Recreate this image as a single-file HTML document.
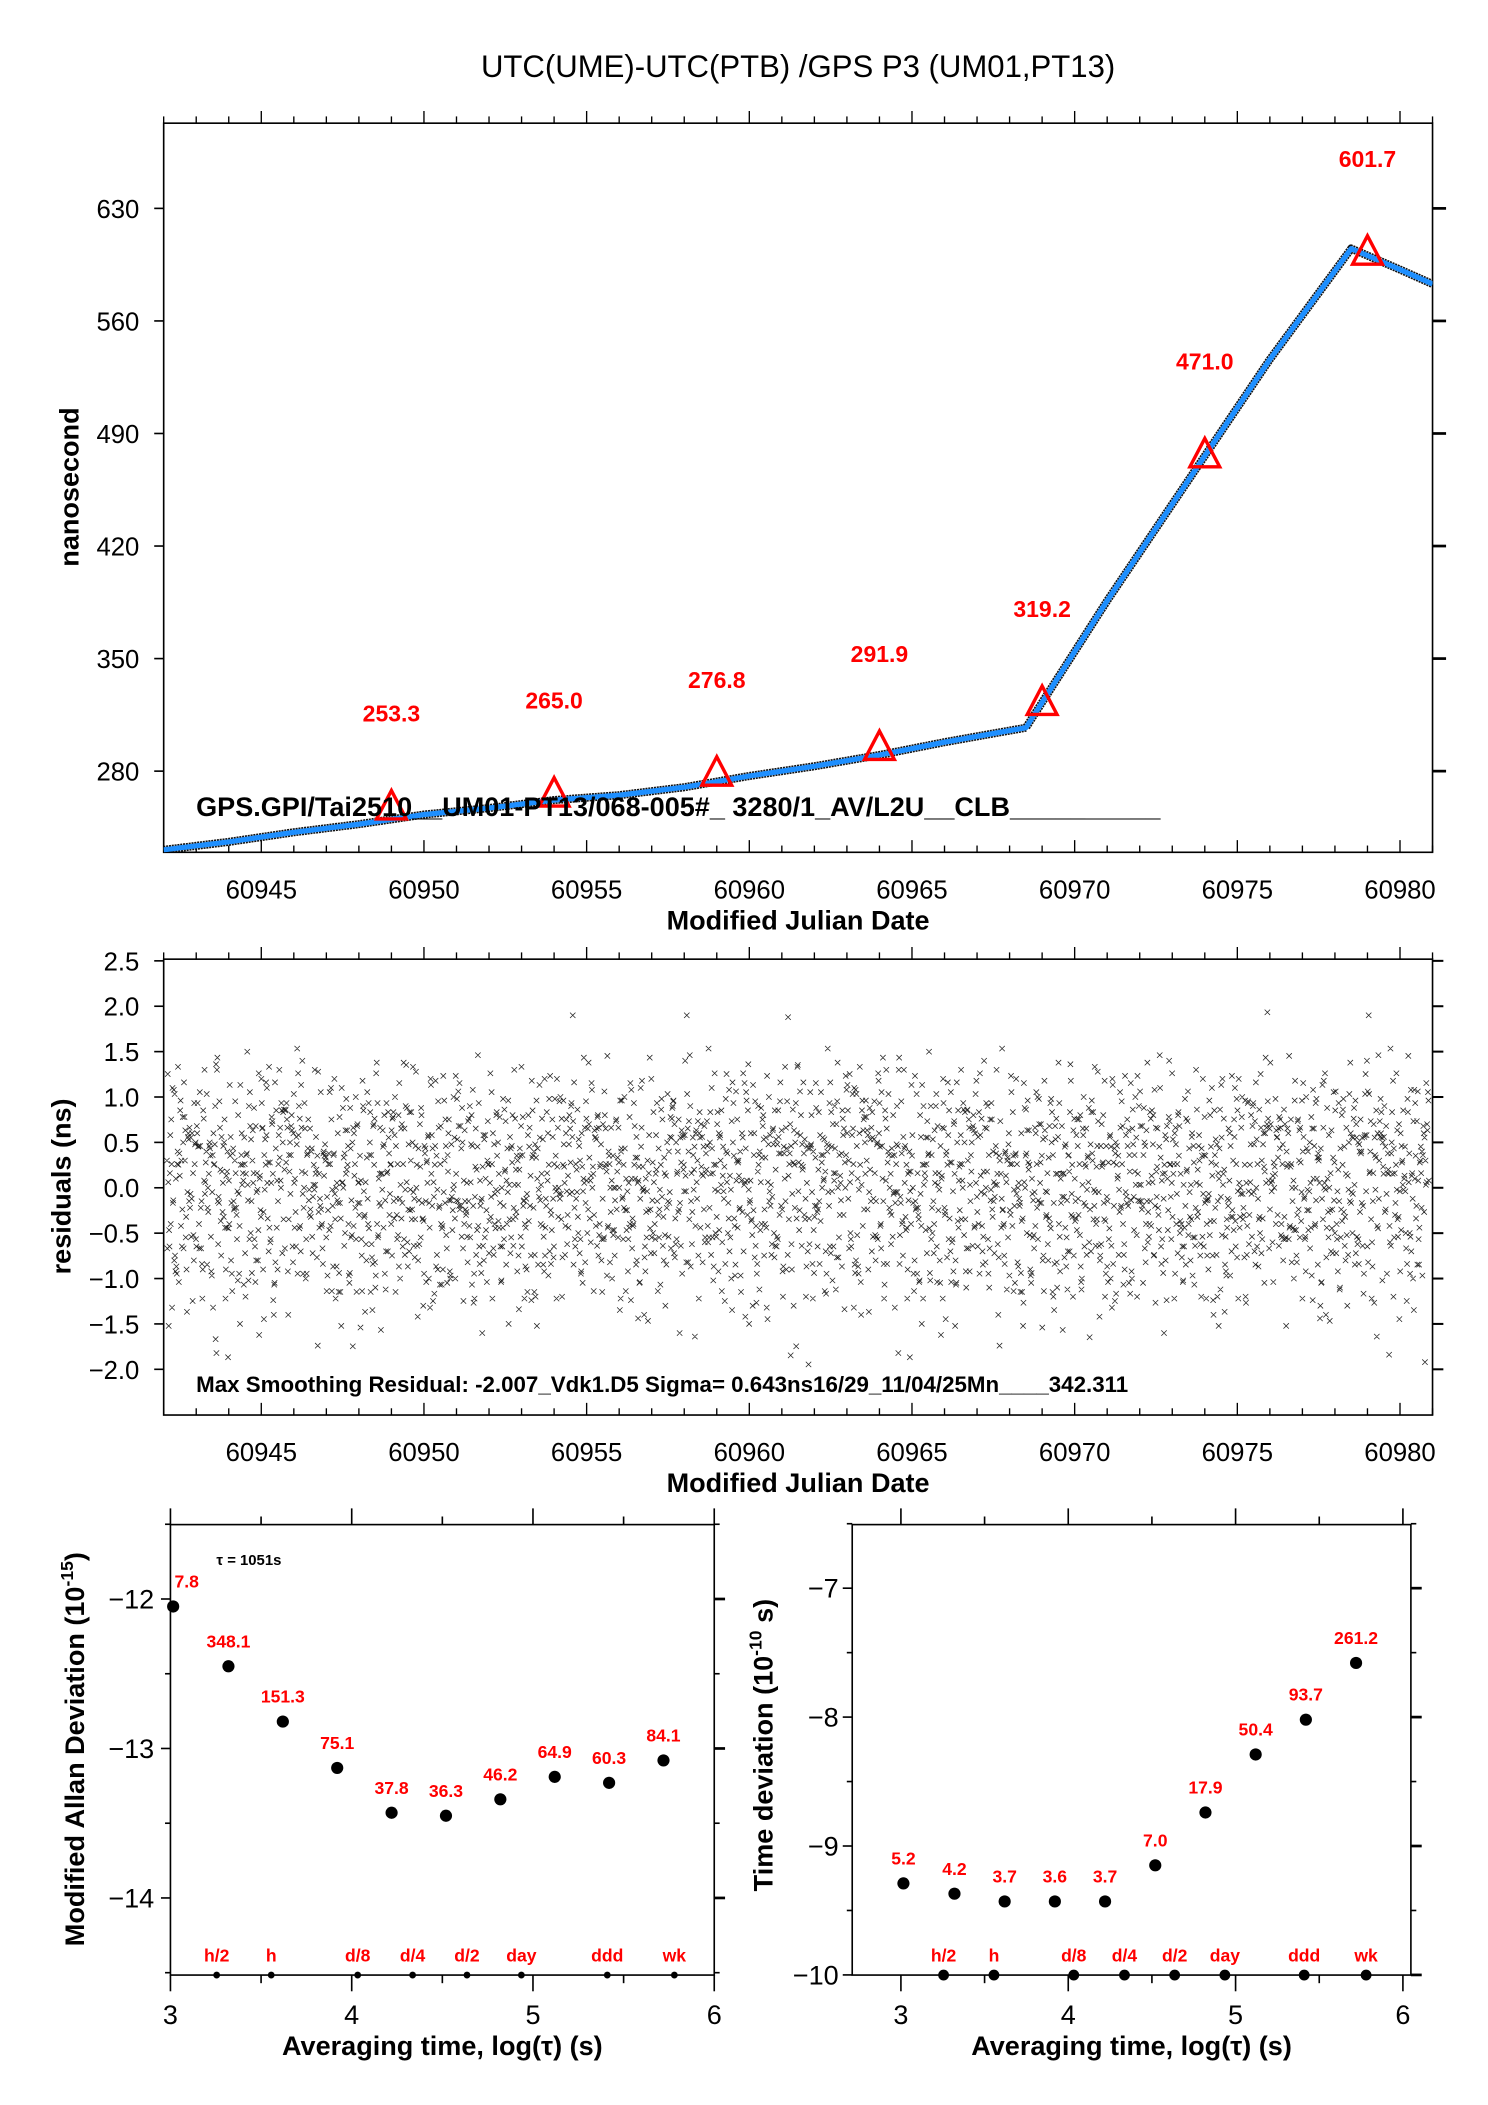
<!DOCTYPE html>
<html><head><meta charset="utf-8"><style>
html,body{margin:0;padding:0;background:#fff}
svg{display:block}
text{font-family:"Liberation Sans",Arial,sans-serif}
</style></head><body>
<svg id="fig" width="1488" height="2105" viewBox="0 0 1100 1556" xmlns="http://www.w3.org/2000/svg">
<rect width="1100" height="1556" fill="#fff"/>
<text x="590" y="57" text-anchor="middle" font-size="23">UTC(UME)-UTC(PTB)  /GPS  P3  (UM01,PT13)</text>
<g id="g1"></g>
<g id="g2"></g>
<g id="g3"></g>
<g id="g4"></g>
</svg>
<script>
// ---- data ----
const mjdTicks = [60945,60950,60955,60960,60965,60970,60975,60980];
const nsTicks = [280,350,420,490,560,630];
const curveMjd = [60942,60944,60946,60948,60950,60952,60954,60956,60958,60960,60962,60964,60966,60968.5,60971,60974,60976,60978.5,60980,60981];
const curveNs  = [231,236,242,247,253,257,262,265,270,277,283,290,298,307,386,476,536,605,592,583];
const triMjd = [60949,60954,60959,60964,60969,60974,60979];
const triNs  = [253.3,265.0,276.8,291.9,319.2,471.0,601.7];
const triLabels = ["253.3","265.0","276.8","291.9","319.2","471.0","601.7"];
const triPlotNs = [257,265,278,294,322,476,602];
const resTicks = [-2.0,-1.5,-1.0,-0.5,0.0,0.5,1.0,1.5,2.0,2.5];
const resTickLabels = ["\u22122.0","\u22121.5","\u22121.0","\u22120.5","0.0","0.5","1.0","1.5","2.0","2.5"];
// residuals in units of 0.1 ns
const residuals = [3,-5,8,-2,-9,4,1,-6,11,-3,6,-1,-12,2,7,-4,-7,9,0,-2,5,-10,3,13,-6,2,-3,8,-5,1,-8,4,10,-1,-4,6,-11,2,-2,7,3,-6,0,12,-3,-9,5,1,-5,8,-14,4,-1,6,-7,2,9,-3,3,-8,1,15,-4,6,-2,-10,4,7,-6,0,2,-3,11,-9,5,-1,-5,8,3,-12,6,-2,1,-7,10,-4,4,-17,2,7,-3,-6,9,0,-1,5,-8,3,12,-5,
-2,6,-9,1,4,-4,8,-11,2,-1,7,-6,14,-3,0,5,-8,3,-2,9,-13,4,1,-5,6,-1,-9,10,2,-4,3,-7,8,-2,0,-10,5,12,-6,1,-3,7,-5,4,-12,2,9,-1,-7,6,3,-4,11,-8,0,5,-2,-6,8,1,-15,4,-3,7,-9,2,13,-1,-5,6,-2,3,-11,9,0,-4,5,-7,1,10,-3,-8,4,6,-1,-12,2,8,-5,3,19,-6,0,4,-9,1,-2,7,-4,11,
-3,5,-7,2,-1,8,-10,4,6,-5,0,3,-13,9,-2,1,-6,12,-4,7,-8,2,5,-1,-9,3,14,-5,0,6,-3,-11,8,1,-2,4,-7,10,-4,2,-16,6,3,-1,-8,9,-3,5,0,-12,7,1,-5,4,-2,11,-9,3,-1,6,-6,2,13,-4,0,5,-10,8,-3,1,-7,4,9,-2,-5,6,-13,3,0,7,-4,12,-1,-8,5,2,-6,10,-3,4,-9,1,-18,8,-2,6,
-5,3,11,-1,-7,4,0,-10,9,2,-4,6,-12,5,-2,8,-6,1,14,-3,-9,7,3,-1,-5,10,-8,4,0,-14,6,2,-3,9,-7,5,-1,12,-4,1,-11,7,3,-6,8,-2,0,-9,4,13,-5,2,-1,6,-8,10,-3,5,-12,1,7,-4,3,-7,9,0,-10,6,-2,4,-6,11,-1,-15,5,2,-3,8,-9,3,0,7,-5,12,-4,1,-8,6,2,-11,9,-1,4,-6,3,15,-7,0,
5,-3,8,-10,2,-1,6,-13,4,9,-5,1,-7,11,-2,3,-8,6,0,-4,10,-12,5,2,-6,7,-1,-9,4,13,-3,1,-5,8,-11,6,-2,3,-16,9,0,-4,7,-7,2,12,-1,-6,5,-9,4,1,-3,10,-8,6,-2,-12,7,3,-5,9,0,-10,4,14,-4,1,-7,6,-2,11,-6,3,-13,8,-1,5,-9,2,7,-4,0,-8,10,-3,6,-11,1,4,-6,12,-2,-7,9,3,-14,5,
-1,8,-5,2,-10,7,4,-3,11,-8,1,6,-2,-12,9,3,-6,5,0,-9,13,-4,2,7,-7,1,-11,10,-3,4,-5,8,-15,6,2,-1,9,-8,3,-4,12,-6,0,5,-10,7,-2,4,-13,11,1,-5,6,-7,3,9,-1,-11,8,-3,2,-8,14,-5,0,6,-9,4,-2,10,-6,1,-12,7,3,-4,5,-10,9,-1,2,-7,12,-3,6,-14,4,0,-5,8,-9,1,11,-2,-6,5,3,-19,7];
const tauLog = [3.015,3.32,3.62,3.92,4.22,4.52,4.82,5.12,5.42,5.72];
const mdevVals = [-12.05,-12.45,-12.82,-13.13,-13.43,-13.45,-13.34,-13.19,-13.23,-13.08];
const mdevLabels = ["7.8","348.1","151.3","75.1","37.8","36.3","46.2","64.9","60.3","84.1"];
const tdevVals = [-9.29,-9.37,-9.43,-9.43,-9.43,-9.15,-8.74,-8.29,-8.02,-7.58];
const tdevLabels = ["5.2","4.2","3.7","3.6","3.7","7.0","17.9","50.4","93.7","261.2"];
const markNames = ["h/2","h","d/8","d/4","d/2","day","ddd","wk"];
const markLog = [3.255,3.556,4.033,4.336,4.636,4.936,5.41,5.78];
const xTicksLog = [3,4,5,6];
const mdevTicks = [-12,-13,-14];
const tdevTicks = [-7,-8,-9,-10];

const NS="http://www.w3.org/2000/svg";
function mk(parent,tag,attrs,txt){const e=document.createElementNS(NS,tag);for(const k in attrs)e.setAttribute(k,attrs[k]);if(txt!==undefined)e.textContent=txt;parent.appendChild(e);return e;}
// ---- axes ----
const sx=v=>121+(v-60942)/39*938;
const sy1=v=>570-(v-280)*1.1886;
const sy2=v=>878-v*67.1;
const bx=v=>126+(v-3)*134;
const by=v=>1182-(v+12)*110.5;
const rx=v=>666+(v-3)*123.7;
const ry=v=>1174-(v+7)*95.3;

// ---- panel 1 ----
const g1=document.getElementById('g1');
let f=mk(g1,'rect',{x:121,y:91,width:938,height:539,fill:'none',stroke:'#000','stroke-width':1.2});

function mjdTicksDraw(g,top,bot,labY){
  for(let d=60942;d<=60981;d++){
    const x=sx(d),maj=d%5===0;
    mk(g,'line',{x1:x,x2:x,y1:top,y2:top-(maj?9:5),stroke:'#000','stroke-width':1});
    mk(g,'line',{x1:x,x2:x,y1:bot,y2:bot-(maj?9:5),stroke:'#000','stroke-width':1});
  }
  mjdTicks.forEach(v=>{const t=mk(g,'text',{x:sx(v),y:labY,'text-anchor':'middle','font-size':19},String(v));
    });
}
mjdTicksDraw(g1,91,630,664);
nsTicks.forEach(v=>{const y=sy1(v);
  mk(g1,'line',{x1:114,x2:121,y1:y,y2:y,stroke:'#000','stroke-width':1.2});
  mk(g1,'line',{x1:1059,x2:1069,y1:y,y2:y,stroke:'#000','stroke-width':2});
  const t=mk(g1,'text',{x:103,y:y+7,'text-anchor':'end','font-size':19},String(v));
  });
const clip=mk(g1,'clipPath',{id:'c1'});mk(clip,'rect',{x:121,y:91,width:938,height:539});
const pts=curveMjd.map((m,i)=>sx(m).toFixed(1)+','+sy1(curveNs[i]).toFixed(1)).join(' ');
const cg=mk(g1,'g',{'clip-path':'url(#c1)'});
let l1=mk(cg,'polyline',{points:pts,fill:'none',stroke:'#111','stroke-width':6,'stroke-linejoin':'round','stroke-dasharray':'1.5 0.6'});

let l2=mk(cg,'polyline',{points:pts,fill:'none',stroke:'#1e8fff','stroke-width':3.8,'stroke-linejoin':'round'});

triMjd.forEach((m,i)=>{const x=sx(m),y=sy1(triPlotNs[i]);
  const p=mk(g1,'polygon',{points:`${x},${y-13} ${x-11},${y+8} ${x+11},${y+8}`,fill:'none',stroke:'#f00','stroke-width':2.5});
  
  const t=mk(g1,'text',{x:x,y:y-64,'text-anchor':'middle','font-size':17,'font-weight':'bold',fill:'#f00'},triLabels[i]);
  });
let t1=mk(g1,'text',{x:145,y:603,'font-size':20,'font-weight':'bold'},'GPS.GPI/Tai2510__UM01-PT13/068-005#_  3280/1_AV/L2U__CLB__________');

t1=mk(g1,'text',{x:590,y:687,'text-anchor':'middle','font-size':20,'font-weight':'bold'},'Modified Julian Date');

t1=mk(g1,'text',{x:0,y:0,'text-anchor':'middle','font-size':20,'font-weight':'bold',transform:'translate(58,360) rotate(-90)'},'nanosecond');


// ---- panel 2 ----
const g2=document.getElementById('g2');
f=mk(g2,'rect',{x:121,y:709,width:938,height:337,fill:'none',stroke:'#000','stroke-width':1.2});

mjdTicksDraw(g2,709,1046,1080);
resTicks.forEach((v,i)=>{const y=sy2(v);
  mk(g2,'line',{x1:114,x2:121,y1:y,y2:y,stroke:'#000','stroke-width':1.2});
  mk(g2,'line',{x1:1059,x2:1067,y1:y,y2:y,stroke:'#000','stroke-width':1.5});
  const t=mk(g2,'text',{x:103,y:y+7,'text-anchor':'end','font-size':19},resTickLabels[i]);
  });
let dpath='';
const nR=residuals.length;
const passes=5;
const subOffsets=[0,0.033,-0.047,0.061,-0.021];
for(let k=0;k<passes;k++){
  residuals.forEach((r,i)=>{
    const idx=(i*passes+k);
    const m=60942.1+idx/(nR*passes)*38.8;
    const rr=residuals[(i*7+k*131)%nR]/10;
    const x=sx(m),y=sy2((k===0?r/10:rr)+subOffsets[(i+k)%passes]);
    dpath+=`M${(x-2).toFixed(1)} ${(y-2).toFixed(1)}l4 4M${(x-2).toFixed(1)} ${(y+2).toFixed(1)}l4 -4`;
  });
}
const sc=mk(g2,'path',{d:dpath,stroke:'#222','stroke-width':0.55,fill:'none'});

t1=mk(g2,'text',{x:145,y:1029,'font-size':16.5,'font-weight':'bold'},'Max Smoothing Residual: -2.007_Vdk1.D5  Sigma= 0.643ns16/29_11/04/25Mn____342.311');

t1=mk(g2,'text',{x:590,y:1103,'text-anchor':'middle','font-size':20,'font-weight':'bold'},'Modified Julian Date');

t1=mk(g2,'text',{x:0,y:0,'text-anchor':'middle','font-size':20,'font-weight':'bold',transform:'translate(52,877) rotate(-90)'},'residuals (ns)');


// ---- stability panels ----
function stab(g,X,Y,left,right,top,bot,yt,minorStep,vals,labs,ylabel,ydx){
  const fr=mk(g,'rect',{x:left,y:top,width:right-left,height:bot-top,fill:'none',stroke:'#000','stroke-width':1.2});
  
  for(let v=3;v<=6.001;v+=0.5){const x=X(v),maj=Math.abs(v-Math.round(v))<1e-6;
    mk(g,'line',{x1:x,x2:x,y1:top,y2:top-(maj?12:6),stroke:'#000','stroke-width':1.2});
    mk(g,'line',{x1:x,x2:x,y1:bot,y2:bot+(maj?12:6),stroke:'#000','stroke-width':1.2});}
  xTicksLog.forEach(v=>{const t=mk(g,'text',{x:X(v),y:1496,'text-anchor':'middle','font-size':20},String(v));
    });
  const yMin=yt[yt.length-1]-1,yMax=yt[0]+1;
  for(let v=yMin;v<=yMax+1e-6;v+=minorStep){const y=Y(v);if(y<top-1||y>bot+1)continue;
    const maj=Math.abs(v-Math.round(v))<1e-6;
    mk(g,'line',{x1:left-(maj?7:4),x2:left,y1:y,y2:y,stroke:'#000','stroke-width':1.2});
    mk(g,'line',{x1:right,x2:right+(maj?8:4),y1:y,y2:y,stroke:'#000','stroke-width':maj?2:1.2});}
  yt.forEach(v=>{const t=mk(g,'text',{x:left-ydx,y:Y(v)+7,'text-anchor':'end','font-size':20},'\u2212'+Math.abs(v));
    });
  tauLog.forEach((v,i)=>{const c=mk(g,'circle',{cx:X(v),cy:Y(vals[i]),r:4.5,fill:'#000'});
    
    const t=mk(g,'text',{x:X(v)+(i===0&&g.id==='g3'?10:0),y:Y(vals[i])-14,'text-anchor':'middle','font-size':13,'font-weight':'bold',fill:'#f00'},labs[i]);
    });
  markLog.forEach((v,i)=>{const c=mk(g,'circle',{cx:X(v),cy:bot,r:g.id==='g3'?2.5:4,fill:'#000'});
    
    const t=mk(g,'text',{x:X(v),y:bot-10,'text-anchor':'middle','font-size':13,'font-weight':'bold',fill:'#f00'},markNames[i]);
    });
  let t=mk(g,'text',{x:(left+right)/2,y:1519,'text-anchor':'middle','font-size':20,'font-weight':'bold'},'Averaging time, log(\u03c4) (s)');
  
  t=mk(g,'text',{x:0,y:0,'text-anchor':'middle','font-size':20,'font-weight':'bold',transform:ylabel.tr});
  
  mk(t,'tspan',{},ylabel.a);mk(t,'tspan',{dy:-8,'font-size':13},ylabel.sup);mk(t,'tspan',{dy:8},ylabel.b);
}
const g3=document.getElementById('g3');
stab(g3,bx,by,126,528,1127,1460,mdevTicks,0.5,mdevVals,mdevLabels,{tr:'translate(62,1293) rotate(-90)',a:'Modified Allan Deviation (10',sup:'-15',b:')'},12);
let tt=mk(g3,'text',{x:160,y:1157,'font-size':11,'font-weight':'bold'},'\u03c4 = 1051s');

const g4=document.getElementById('g4');
stab(g4,rx,ry,630,1043,1127,1460,tdevTicks,0.5,tdevVals,tdevLabels,{tr:'translate(571,1290) rotate(-90)',a:'Time deviation (10',sup:'-10',b:' s)'},10);
</script>
</body></html>
